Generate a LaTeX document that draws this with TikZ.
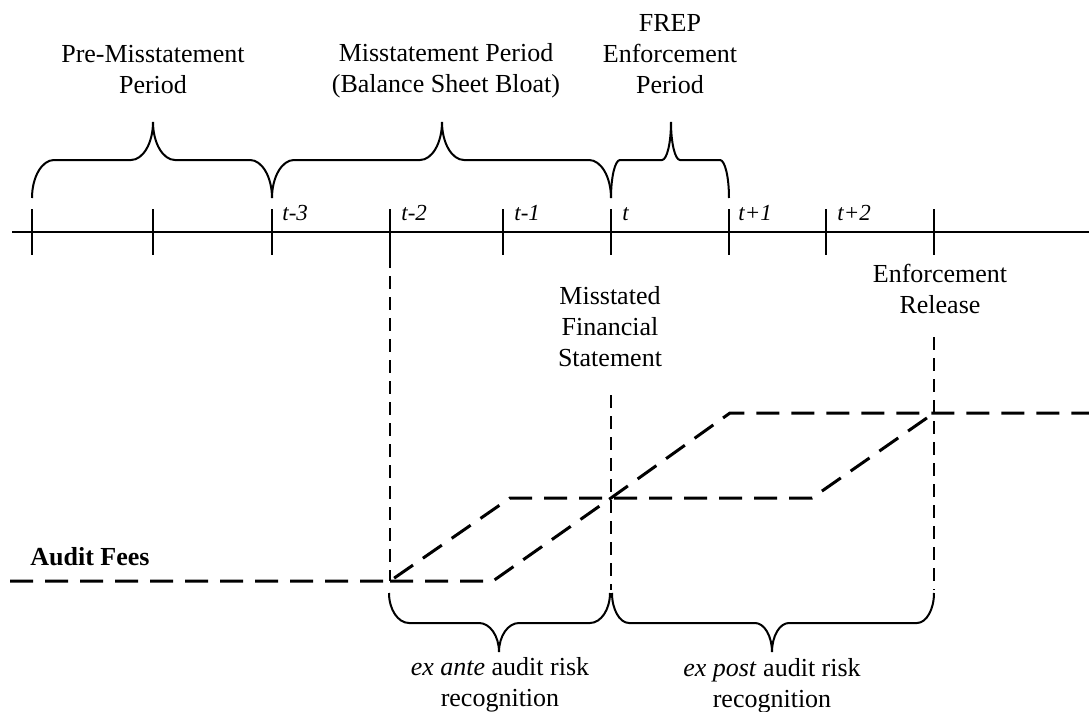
\documentclass[tikz,border=0pt]{standalone}
\usepackage{fontspec}
\setmainfont{Liberation Serif}
\usepackage{tikz}

\begin{document}
\begin{tikzpicture}[x=0.5pt,y=-0.5pt,
  lbl/.style={align=center,anchor=base,inner sep=0pt,font=\fontsize{13}{15.5}\selectfont},
  tlbl/.style={anchor=base west,inner sep=0pt,font=\fontsize{11.5}{13}\selectfont\itshape},
  fee/.style={line width=1.5pt,dash pattern=on 11.5pt off 6pt},
  guide/.style={line width=0.9pt,dash pattern=on 6.5pt off 4pt},
  brace/.style={line width=1pt}]
\useasboundingbox (0,0) rectangle (1089,712);
\coordinate (l0) at (12,232);
\coordinate (l1) at (1089,232);
\draw[line width=1pt] (l0) -- (l1);
\foreach \x/\n in {32/1,153/2,272/3,390/4,503/5,611/6,729/7,826/8,934/9}
  \draw[line width=1pt] (\x,209) coordinate (k\n) -- (\x,255) coordinate (b\n);
\node[tlbl] (tm3) at (282,220) {t-3};
\node[tlbl] (tm2) at (401,220) {t-2};
\node[tlbl] (tm1) at (514,220) {t-1};
\node[tlbl] (t0) at (622,220) {t};
\node[tlbl] (tp1) at (738,220) {t+1};
\node[tlbl] (tp2) at (837,220) {t+2};
\node[lbl] (pre) at (153,93) {Pre-Misstatement\\Period};
\node[lbl] (mis) at (446,92) {Misstatement Period\\(Balance Sheet Bloat)};
\node[lbl] (frep) at (670,93) {FREP\\Enforcement\\Period};
\node[lbl] (mfs) at (610,366) {Misstated\\Financial\\Statement};
\node[lbl] (rel) at (940,313) {Enforcement\\Release};
\node[lbl,anchor=base west,font=\fontsize{13}{15.5}\selectfont\bfseries] (fees) at (30,565) {Audit Fees};
\node[lbl] (ante) at (500,706) {\textit{ex ante} audit risk\\recognition};
\node[lbl] (post) at (772,707) {\textit{ex post} audit risk\\recognition};
\coordinate (p0) at (10,581);
\coordinate (p1) at (390,581);
\coordinate (p2) at (510,498);
\coordinate (p3) at (812,498);
\coordinate (p4) at (934,413);
\coordinate (q1) at (493,581);
\coordinate (q2) at (611,498);
\coordinate (q3) at (730,413);
\coordinate (q4) at (1089,413);
\coordinate (m0) at (611,395);
\coordinate (m1) at (611,590);
\coordinate (e0) at (934,337);
\coordinate (e1) at (934,590);
\draw[fee] (p0) -- (p1) -- (p2) -- (p3) -- (p4);
\draw[fee] (p1) -- (q1) -- (q2) -- (q3) -- (q4);
\draw[guide] (b4) -- (p1);
\draw[guide] (m0) -- (m1);
\draw[guide] (e0) -- (e1);
\foreach \xl/\xt/\xr/\ye/\ym/\yt/\w in {32/153/272/198/160/122/22,272/442/611/198/160/122/22,611/671/729/198/160/122/9,389/499/610/593/623/652/20,612/772/934/593/623/652/17}
  \draw[brace] (\xl,\ye) .. controls (\xl,{\ye-0.55*(\ye-\ym)}) and ({\xl+0.45*\w},\ym) .. ({\xl+\w},\ym)
    -- ({\xt-\w},\ym) .. controls ({\xt-0.45*\w},\ym) and (\xt,{\ym-0.45*(\ym-\yt)}) .. (\xt,\yt)
    .. controls (\xt,{\ym-0.45*(\ym-\yt)}) and ({\xt+0.45*\w},\ym) .. ({\xt+\w},\ym)
    -- ({\xr-\w},\ym) .. controls ({\xr-0.45*\w},\ym) and (\xr,{\ye-0.55*(\ye-\ym)}) .. (\xr,\ye);
\end{tikzpicture}
\end{document}
